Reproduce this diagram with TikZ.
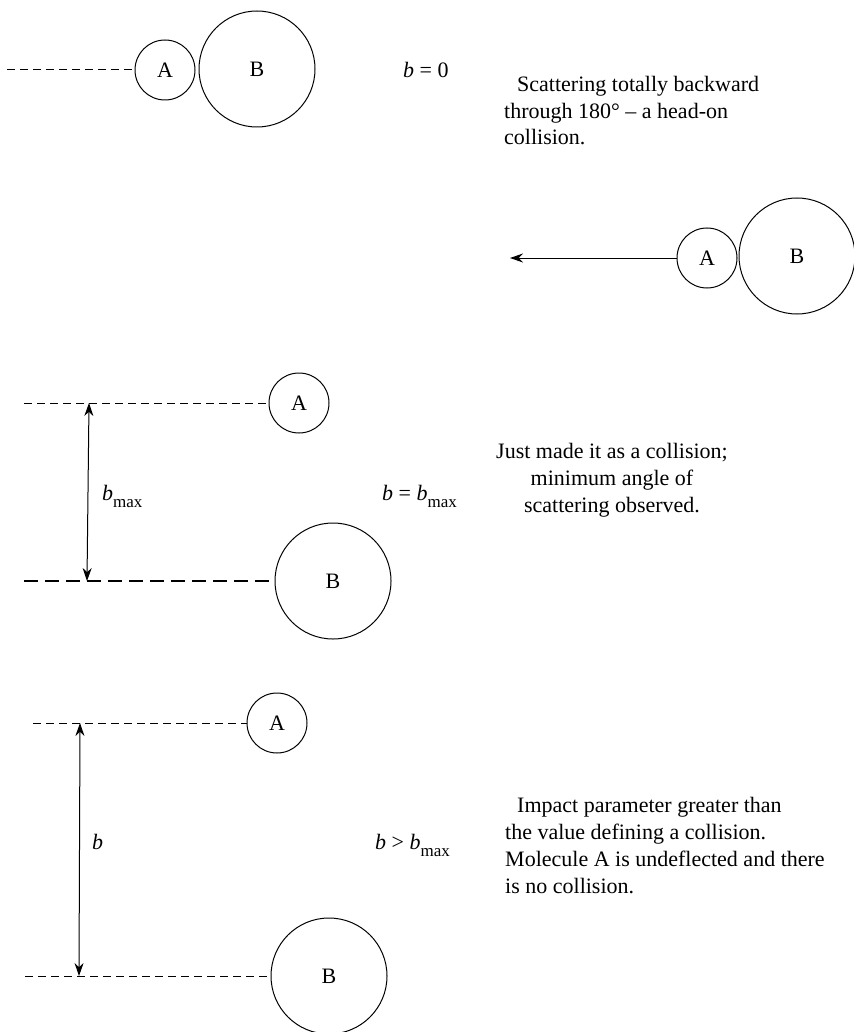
\documentclass[tikz,border=0pt]{standalone}
\usepackage{fontspec}
\setmainfont{Liberation Serif}
\usetikzlibrary{arrows.meta}
\newcommand{\bmaxlbl}{\textit{b}\raisebox{-7pt}{\fontsize{17}{17}\selectfont max}}
\begin{document}
\begin{tikzpicture}[x=1pt,y=-1pt,
  every node/.style={font=\fontsize{22}{26.7}\selectfont},
  ball/.style={circle,draw,line width=1pt,inner sep=0pt},
  small/.style={ball,minimum size=60pt},
  big/.style={ball,minimum size=116pt},
  track/.style={line width=1pt,dash pattern=on 8pt off 5pt},
  longtrack/.style={line width=1.2pt,dash pattern=on 14pt off 7pt},
  dim/.style={line width=1pt,{Stealth[length=13pt,width=9pt]}-{Stealth[length=13pt,width=9pt]}},
  back/.style={line width=1pt,-{Stealth[length=13pt,width=9pt]}},
  lbl/.style={inner sep=0pt,anchor=base west},
  desc/.style={inner sep=0pt,anchor=base west,align=left}
]
\useasboundingbox (0,0) rectangle (853,1032);

% Row 1: b = 0
\node[small] (A1) at (165,70) {A};
\node[big] (B1) at (257,69) {B};
\coordinate (S1) at (7,70);
\draw[track] (S1) -- (A1.west);
\node[lbl] (L1) at (403,78) {\textit{b} = 0};
\node[desc] (T1) at (504,145) {\hspace*{13pt}Scattering totally backward\\through 180° – a head-on\\collision.};

% Row 2: rebound
\node[small] (A2) at (707,258) {A};
\node[big] (B2) at (797,256) {B};
\coordinate (E2) at (510,258);
\draw[back] (A2.west) -- (E2);

% Row 3: b = b_max
\node[small] (A3) at (299,403) {A};
\node[big] (B3) at (333,581) {B};
\coordinate (S3a) at (24,403);
\coordinate (S3b) at (24,581);
\coordinate (D3a) at (89,403);
\coordinate (D3b) at (87,581);
\draw[track] (S3a) -- (A3.west);
\draw[longtrack] (S3b) -- (B3.west);
\draw[dim] (D3a) -- (D3b);
\node[lbl] (L3a) at (102,500) {\bmaxlbl};
\node[lbl] (L3b) at (382,500) {\textit{b} = \bmaxlbl};
\node[inner sep=0pt,anchor=base,align=center] (T3) at (612,512) {Just made it as a collision;\\minimum angle of\\scattering observed.};

% Row 4: b > b_max
\node[small] (A4) at (277,723) {A};
\node[big] (B4) at (329,976) {B};
\coordinate (S4a) at (33,723);
\coordinate (S4b) at (25,976);
\coordinate (D4a) at (80,723);
\coordinate (D4b) at (79,976);
\draw[track] (S4a) -- (A4.west);
\draw[track] (S4b) -- (B4.west);
\draw[dim] (D4a) -- (D4b);
\node[lbl] (L4a) at (92,849) {\textit{b}};
\node[lbl] (L4b) at (375,849) {\textit{b} > \bmaxlbl};
\node[desc] (T4) at (505,893) {\hspace*{12pt}Impact parameter greater than\\the value defining a collision.\\Molecule A is undeflected and there\\is no collision.};
\end{tikzpicture}
\end{document}
